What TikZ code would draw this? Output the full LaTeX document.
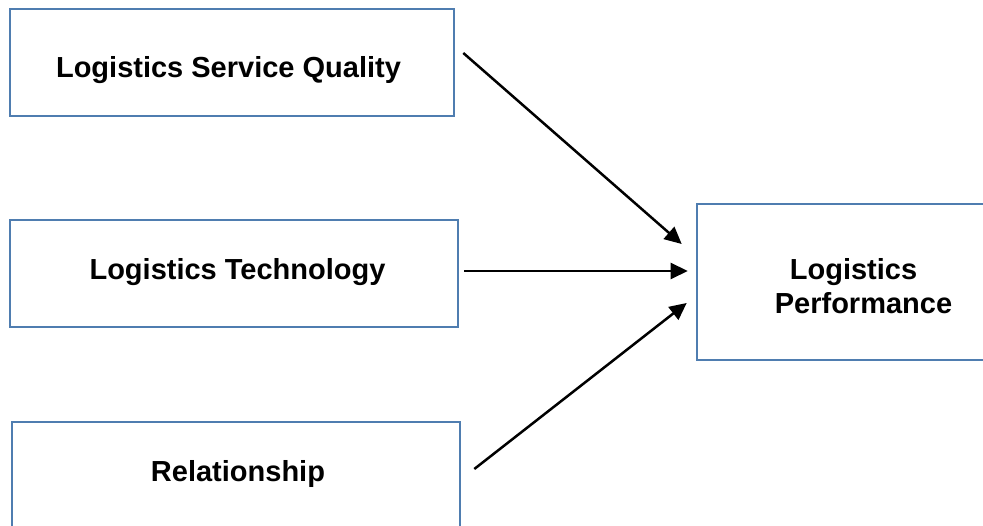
\documentclass[tikz,border=0pt]{standalone}
\usepackage{fontspec}
\setmainfont{Liberation Sans}
\usetikzlibrary{arrows.meta}
\definecolor{boxblue}{RGB}{79,125,176}
\tikzset{
  box/.style={draw=boxblue, line width=2.6pt, rectangle, inner sep=0pt},
  lbl/.style={font=\fontsize{29}{34}\selectfont\bfseries, anchor=base, inner sep=0pt},
  conn/.style={line width=2.5pt, -{Triangle[length=17pt,width=16pt]}}
}
\begin{document}
\begin{tikzpicture}[x=1pt,y=-1pt]
\path[use as bounding box, clip] (0,0) rectangle (983,526);
\fill[white] (0,0) rectangle (983,526);
\node[box, minimum width=444pt, minimum height=107pt] (q) at (232,62.5) {};
\node[box, minimum width=448pt, minimum height=107pt] (t) at (234,273.5) {};
\node[box, minimum width=448pt, minimum height=110pt] (r) at (236,477) {};
\node[box, minimum width=295pt, minimum height=156pt] (p) at (844.5,282) {};
\node[lbl] (qt) at (228.5,78) {Logistics Service Quality};
\node[lbl] (tt) at (237.5,280) {Logistics Technology};
\node[lbl] (rt) at (238,482) {Relationship};
\node[lbl] (pt1) at (853.5,280) {Logistics};
\node[lbl] (pt2) at (863.5,314) {Performance};
\draw[conn] ([xshift=8pt,yshift=9.5pt]q.east) -- ([xshift=-14pt,yshift=38pt]p.west);
\draw[conn] ([xshift=5pt,yshift=2.5pt]t.east) -- ([xshift=-8pt,yshift=11pt]p.west);
\draw[conn] ([xshift=13pt,yshift=8pt]r.east) -- ([xshift=-9pt,yshift=-21pt]p.west);
\end{tikzpicture}
\end{document}
